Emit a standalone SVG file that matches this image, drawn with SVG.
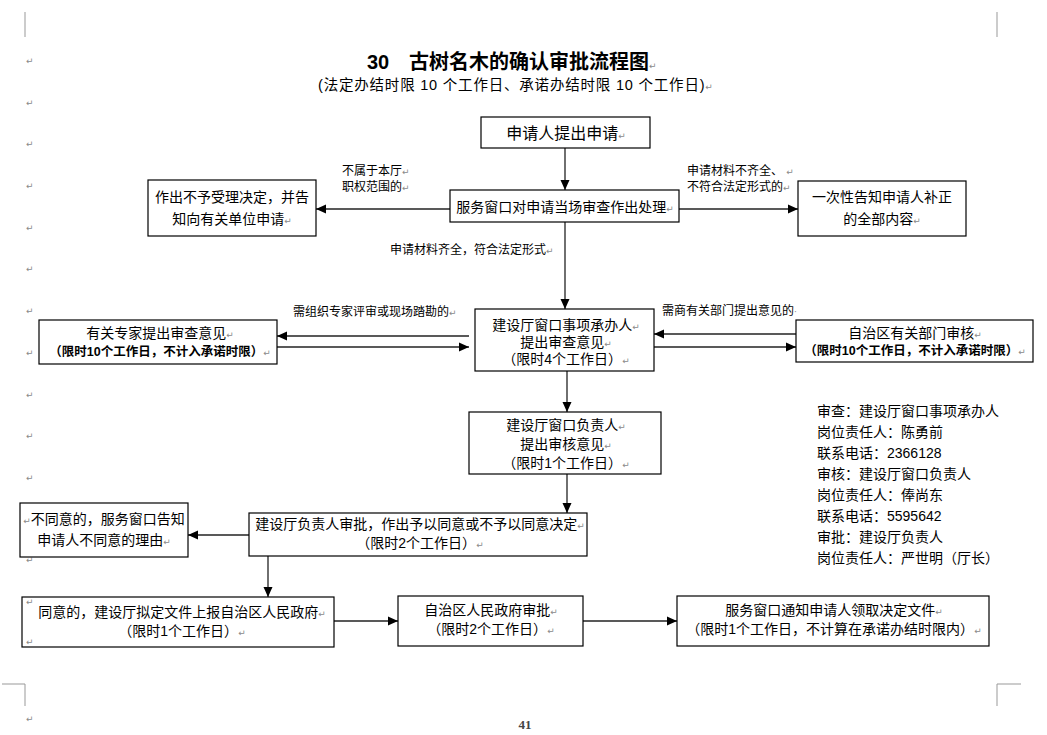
<svg xmlns="http://www.w3.org/2000/svg" width="1047" height="735" viewBox="0 0 1047 735">
<style>
text{font-family:'Liberation Sans','Noto Sans CJK SC',sans-serif;fill:#000}
.b{font-size:14px;text-anchor:middle}
.b16{font-size:16px;text-anchor:middle}
.s{font-size:12.5px;font-weight:bold;text-anchor:middle}
.l{font-size:12px}
.r{font-size:14px}
.pm{font-family:'DejaVu Sans',sans-serif;font-size:9px;fill:#8a8a8a;font-weight:normal;letter-spacing:0}
.box{fill:#fff;stroke:#000;stroke-width:1.2}
.c{stroke:#222;stroke-width:1.3;fill:none;marker-end:url(#ah)}
.crop{stroke:#999;stroke-width:1;fill:none}
</style>
<defs>
<marker id="ah" markerUnits="userSpaceOnUse" markerWidth="10" markerHeight="10" viewBox="0 0 10 10" refX="10" refY="5" orient="auto">
<path d="M0,0.5 L10,5 L0,9.5 z" fill="#000"/>
</marker>
</defs>
<rect width="1047" height="735" fill="#fff"/>
<g id="page">
<path class="crop" d="M25,12 V37 M997,12 V37 M2,684 H25 V706 M997,706 V684 H1021"/>
<text class="pm" x="26" y="64">↵</text>
<text class="pm" x="26" y="106">↵</text>
<text class="pm" x="26" y="147">↵</text>
<text class="pm" x="26" y="189">↵</text>
<text class="pm" x="26" y="231">↵</text>
<text class="pm" x="26" y="272">↵</text>
<text class="pm" x="26" y="314">↵</text>
<text class="pm" x="26" y="356">↵</text>
<text class="pm" x="26" y="398">↵</text>
<text class="pm" x="26" y="439">↵</text>
<text class="pm" x="26" y="481">↵</text>
<text class="pm" x="26" y="563">↵</text>
<text class="pm" x="26" y="722">↵</text>
<text x="525" y="729" style="font-family:'Liberation Serif',serif;font-size:13px;font-weight:bold;fill:#444;text-anchor:middle">41</text>
</g>
<g id="title">
<text x="367" y="69" style="font-size:20px;font-weight:bold">30</text>
<text x="409" y="69" style="font-size:20px;font-weight:bold">古树名木的确认审批流程图<tspan class="pm">↵</tspan></text>
<text x="318" y="90" style="font-size:14.5px;letter-spacing:0.8px">(法定办结时限 10 个工作日、承诺办结时限 10 个工作日)<tspan class="pm">↵</tspan></text>
</g>
<g id="connectors">
<line class="c" x1="565" y1="148" x2="565" y2="190"/>
<line class="c" x1="450" y1="209" x2="316" y2="209"/>
<line class="c" x1="679" y1="209" x2="798" y2="209"/>
<line class="c" x1="565" y1="222" x2="565" y2="309"/>
<line class="c" x1="469" y1="336" x2="277" y2="336"/>
<line class="c" x1="277" y1="347" x2="469" y2="347"/>
<line class="c" x1="796" y1="334" x2="654" y2="334"/>
<line class="c" x1="654" y1="347" x2="796" y2="347"/>
<line class="c" x1="567" y1="371" x2="567" y2="412"/>
<line class="c" x1="567" y1="474" x2="567" y2="513"/>
<line class="c" x1="249" y1="535" x2="188" y2="535"/>
<line class="c" x1="268" y1="556" x2="268" y2="597"/>
<line class="c" x1="334" y1="621" x2="398" y2="621"/>
<line class="c" x1="583" y1="621" x2="677" y2="621"/>
<text class="l" x="342" y="175">不属于本厅<tspan class="pm">↵</tspan></text>
<text class="l" x="342" y="191">职权范围的<tspan class="pm">↵</tspan></text>
<text class="l" x="687" y="175">申请材料不齐全、 <tspan class="pm">↵</tspan></text>
<text class="l" x="687" y="191">不符合法定形式的<tspan class="pm">↵</tspan></text>
<text class="l" x="390" y="254">申请材料齐全，符合法定形式<tspan class="pm">↵</tspan></text>
<text class="l" x="293" y="316">需组织专家评审或现场踏勘的<tspan class="pm">↵</tspan></text>
<text class="l" x="662" y="315">需商有关部门提出意见的<tspan class="pm">·</tspan></text>
</g>
<g id="n1">
<rect class="box" x="481" y="117" width="169" height="31"/>
<text class="b16" x="566" y="139">申请人提出申请<tspan class="pm">↵</tspan></text>
</g>
<g id="n2">
<rect class="box" x="450" y="190" width="229" height="32"/>
<text class="b" x="565" y="212">服务窗口对申请当场审查作出处理<tspan class="pm">↵</tspan></text>
</g>
<g id="n3">
<rect class="box" x="148" y="180" width="168" height="56"/>
<text class="b" x="232" y="202">作出不予受理决定，并告</text>
<text class="b" x="232" y="224">知向有关单位申请<tspan class="pm">↵</tspan></text>
</g>
<g id="n4">
<rect class="box" x="798" y="181" width="168" height="55"/>
<text class="b" x="882" y="202">一次性告知申请人补正</text>
<text class="b" x="882" y="224">的全部内容<tspan class="pm">↵</tspan></text>
</g>
<g id="n5">
<rect class="box" x="475" y="309" width="179" height="62"/>
<text class="b" x="566" y="330">建设厅窗口事项承办人<tspan class="pm">↵</tspan></text>
<text class="b" x="566" y="347">提出审查意见<tspan class="pm">↵</tspan></text>
<text class="b" x="566" y="364">（限时4个工作日）<tspan class="pm">↵</tspan></text>
</g>
<g id="n6">
<rect class="box" x="39" y="320" width="238" height="44"/>
<text class="b" x="160" y="338">有关专家提出审查意见<tspan class="pm">↵</tspan></text>
<text class="s" x="160" y="356">（限时10个工作日，不计入承诺时限）<tspan class="pm">↵</tspan></text>
</g>
<g id="n7">
<rect class="box" x="796" y="320" width="237" height="42"/>
<text class="b" x="915" y="338">自治区有关部门审核<tspan class="pm">↵</tspan></text>
<text class="s" x="915" y="355">（限时10个工作日，不计入承诺时限）<tspan class="pm">↵</tspan></text>
</g>
<g id="n8">
<rect class="box" x="469" y="412" width="192" height="62"/>
<text class="b" x="566" y="430">建设厅窗口负责人<tspan class="pm">↵</tspan></text>
<text class="b" x="566" y="449">提出审核意见<tspan class="pm">↵</tspan></text>
<text class="b" x="566" y="468">（限时1个工作日）<tspan class="pm">↵</tspan></text>
</g>
<g id="n9">
<rect class="box" x="249" y="513" width="338" height="43"/>
<text class="b" x="420" y="529">建设厅负责人审批，作出予以同意或不予以同意决定<tspan class="pm">↵</tspan></text>
<text class="b" x="420" y="548">（限时2个工作日）<tspan class="pm">↵</tspan></text>
</g>
<g id="n10">
<rect class="box" x="20" y="503" width="168" height="54"/>
<text class="b" x="104" y="524"><tspan class="pm">↵</tspan>不同意的，服务窗口告知</text>
<text class="b" x="104" y="545">申请人不同意的理由<tspan class="pm">↵</tspan></text>
</g>
<g id="n11">
<rect class="box" x="22" y="597" width="312" height="50"/>
<text class="pm" x="26" y="605">↵</text>
<text class="pm" x="26" y="645">↵</text>
<text class="b" x="182" y="617">同意的，建设厅拟定文件上报自治区人民政府<tspan class="pm">↵</tspan></text>
<text class="b" x="182" y="636">（限时1个工作日）<tspan class="pm">↵</tspan></text>
</g>
<g id="n12">
<rect class="box" x="398" y="596" width="185" height="50"/>
<text class="b" x="491" y="615">自治区人民政府审批<tspan class="pm">↵</tspan></text>
<text class="b" x="491" y="634">（限时2个工作日）<tspan class="pm">↵</tspan></text>
</g>
<g id="n13">
<rect class="box" x="677" y="596" width="312" height="50"/>
<text class="b" x="834" y="615">服务窗口通知申请人领取决定文件<tspan class="pm">↵</tspan></text>
<text class="b" x="834" y="634">（限时1个工作日，不计算在承诺办结时限内）<tspan class="pm">↵</tspan></text>
</g>
<g id="responsibility">
<text class="r" x="817" y="416">审查：建设厅窗口事项承办人</text>
<text class="r" x="817" y="437">岗位责任人：陈勇前</text>
<text class="r" x="817" y="458">联系电话：2366128</text>
<text class="r" x="817" y="479">审核：建设厅窗口负责人</text>
<text class="r" x="817" y="500">岗位责任人：俸尚东</text>
<text class="r" x="817" y="521">联系电话：5595642</text>
<text class="r" x="817" y="542">审批：建设厅负责人</text>
<text class="r" x="817" y="563">岗位责任人：严世明（厅长）</text>
</g>
</svg>
